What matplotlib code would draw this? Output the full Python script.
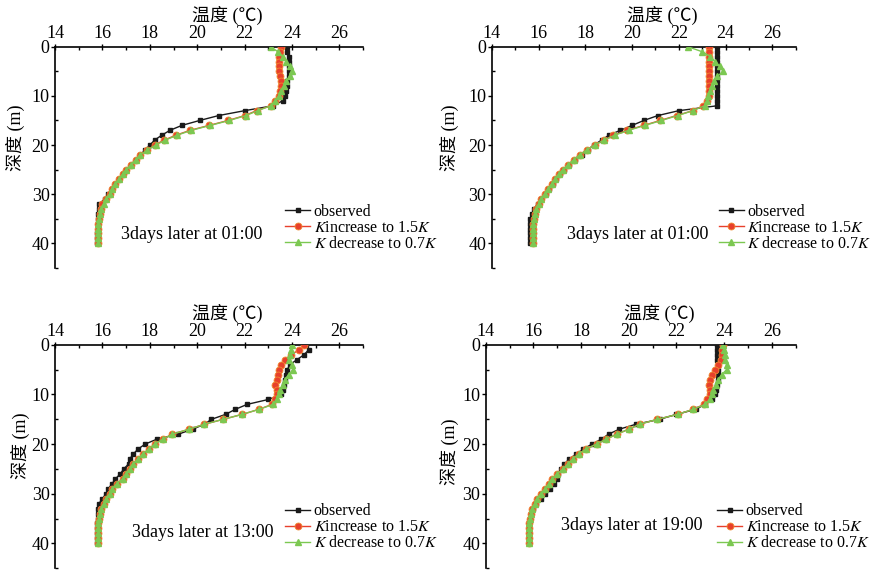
import matplotlib
matplotlib.use('Agg')
import matplotlib.pyplot as plt
from matplotlib.ticker import MultipleLocator

# Perfis verticais de temperatura: observado x modelo com K alterado
plt.rcParams['font.family'] = ['Liberation Serif', 'Noto Sans CJK SC']
plt.rcParams['mathtext.fontset'] = 'stix'

depth = [0, 1, 2, 3, 4, 5, 6, 7, 8, 9, 10, 11, 12, 13, 14, 15, 16, 17, 18, 19, 20,
         21, 22, 23, 24, 25, 26, 27, 28, 29, 30, 31, 32, 33, 34, 35, 36, 37, 38, 39, 40]

# painel a: 3 dias depois, 01:00
obs_a = [23.8, 23.8, 23.85, 23.85, 23.85, 23.85, 23.85, 23.8, 23.8, 23.75, 23.7, 23.6, 23.2, 22.0,
         20.9, 20.1, 19.35, 18.85, 18.5, 18.2, 18.0, 17.8, 17.6, 17.4, 17.2, 17.0, 16.85, 16.7,
         16.55, 16.4, 16.25, 16.1, 15.85, 15.85, 15.8, 15.8, 15.8, 15.8, 15.75, 15.75, 15.75]
inc_a = [23.55, 23.5, 23.45, 23.45, 23.45, 23.45, 23.5, 23.55, 23.55, 23.5, 23.45, 23.3, 23.1, 22.5,
         22.0, 21.3, 20.5, 19.7, 19.1, 18.6, 18.2, 17.9, 17.6, 17.4, 17.2, 17.0, 16.85, 16.7,
         16.55, 16.4, 16.3, 16.15, 16.0, 15.95, 15.9, 15.85, 15.8, 15.8, 15.8, 15.8, 15.8]
dec_a = [23.1, 23.4, 23.6, 23.75, 23.9, 24.0, 23.9, 23.75, 23.65, 23.55, 23.45, 23.3, 23.1, 22.55,
         22.05, 21.35, 20.55, 19.75, 19.15, 18.65, 18.25, 17.9, 17.6, 17.4, 17.2, 17.0, 16.85, 16.7,
         16.55, 16.4, 16.3, 16.15, 16.05, 15.95, 15.9, 15.85, 15.8, 15.8, 15.8, 15.8, 15.8]

# painel b: 3 dias depois, 01:00
obs_b = [23.65, 23.65, 23.65, 23.65, 23.65, 23.65, 23.65, 23.65, 23.65, 23.65, 23.65, 23.65, 23.65, 22.0,
         21.1, 20.5, 20.0, 19.5, 19.0, 18.7, 18.35, 18.1, 17.85, 17.55, 17.3, 17.1, 16.9, 16.75,
         16.6, 16.45, 16.3, 16.1, 15.95, 15.8, 15.7, 15.65, 15.65, 15.65, 15.65, 15.65, 15.65]
inc_b = [23.3, 23.3, 23.3, 23.3, 23.3, 23.3, 23.3, 23.3, 23.3, 23.3, 23.3, 23.2, 23.05, 22.6,
         21.9, 21.2, 20.5, 19.8, 19.2, 18.8, 18.4, 18.05, 17.75, 17.5, 17.25, 17.05, 16.85, 16.7,
         16.55, 16.4, 16.25, 16.1, 16.0, 15.9, 15.85, 15.8, 15.75, 15.75, 15.75, 15.75, 15.75]
dec_b = [22.4, 23.0, 23.35, 23.55, 23.75, 23.9, 23.65, 23.5, 23.4, 23.35, 23.25, 23.2, 23.1, 22.6,
         21.95, 21.25, 20.55, 19.85, 19.25, 18.8, 18.4, 18.05, 17.75, 17.5, 17.25, 17.05, 16.85, 16.7,
         16.55, 16.4, 16.25, 16.1, 16.0, 15.9, 15.85, 15.8, 15.75, 15.75, 15.75, 15.75, 15.75]

# painel c: 3 dias depois, 13:00
obs_c = [24.6, 24.7, 24.5, 24.2, 23.9, 23.8, 23.75, 23.7, 23.65, 23.6, 23.55, 23.0, 22.1, 21.6,
         21.2, 20.6, 20.3, 19.8, 19.2, 18.3, 17.8, 17.5, 17.3, 17.15, 17.1, 16.9, 16.75, 16.55,
         16.4, 16.25, 16.15, 16.0, 15.85, 15.8, 15.8, 15.8, 15.75, 15.75, 15.75, 15.75, 15.75]
inc_c = [24.5, 24.3, 23.95, 23.7, 23.55, 23.45, 23.4, 23.35, 23.3, 23.35, 23.35, 23.3, 23.15, 22.6,
         21.9, 21.1, 20.3, 19.65, 18.95, 18.55, 18.2, 17.95, 17.7, 17.5, 17.3, 17.15, 17.0, 16.85,
         16.6, 16.4, 16.3, 16.15, 16.05, 15.95, 15.9, 15.85, 15.8, 15.8, 15.8, 15.8, 15.8]
dec_c = [24.0, 23.95, 23.9, 23.85, 24.0, 24.05, 23.85, 23.7, 23.6, 23.5, 23.45, 23.35, 23.2, 22.6,
         21.9, 21.1, 20.3, 19.65, 18.95, 18.55, 18.2, 17.95, 17.7, 17.5, 17.3, 17.15, 17.0, 16.85,
         16.6, 16.4, 16.3, 16.15, 16.05, 15.95, 15.9, 15.85, 15.8, 15.8, 15.8, 15.8, 15.8]

# painel d: 3 dias depois, 19:00
obs_d = [23.7, 23.7, 23.7, 23.7, 23.75, 23.75, 23.75, 23.75, 23.7, 23.65, 23.6, 23.5, 23.2, 22.8,
         22.0, 21.3, 20.3, 19.6, 19.15, 18.85, 18.45, 18.1, 17.8, 17.5, 17.3, 17.15, 17.05, 17.0,
         16.85, 16.7, 16.5, 16.3, 16.1, 16.0, 15.9, 15.85, 15.8, 15.8, 15.8, 15.8, 15.8]
inc_d = [23.95, 23.9, 23.9, 23.85, 23.75, 23.6, 23.5, 23.4, 23.35, 23.4, 23.4, 23.3, 23.15, 22.7,
         22.05, 21.2, 20.45, 20.0, 19.5, 19.05, 18.65, 18.2, 17.9, 17.65, 17.45, 17.25, 17.0, 16.8,
         16.65, 16.5, 16.3, 16.15, 16.05, 15.95, 15.9, 15.85, 15.8, 15.8, 15.8, 15.8, 15.8]
dec_d = [23.95, 24.0, 24.05, 24.05, 24.1, 24.1, 23.9, 23.75, 23.65, 23.55, 23.5, 23.4, 23.2, 22.7,
         22.05, 21.2, 20.45, 20.0, 19.5, 19.05, 18.65, 18.2, 17.9, 17.65, 17.45, 17.25, 17.0, 16.8,
         16.65, 16.5, 16.3, 16.15, 16.05, 15.95, 15.9, 15.85, 15.8, 15.8, 15.8, 15.8, 15.8]

time_labels = ['3days later at 01:00', '3days later at 01:00',
               '3days later at 13:00', '3days later at 19:00']
series_labels = ['observed', r'$K$increase to 1.5$K$', r'$K$ decrease to 0.7$K$']
x_ticks = [14, 16, 18, 20, 22, 24, 26]
y_ticks = [0, 10, 20, 30, 40]

panels = [(obs_a, inc_a, dec_a), (obs_b, inc_b, dec_b),
          (obs_c, inc_c, dec_c), (obs_d, inc_d, dec_d)]

# posicao dos eixos na figura (left, bottom, width, height)
boxes = [[0.062, 0.531, 0.347, 0.387],
         [0.554, 0.531, 0.342, 0.387],
         [0.062, 0.005, 0.347, 0.391],
         [0.547, 0.005, 0.349, 0.391]]
ylabel_xy = [(-0.097, 0.59), (-0.11, 0.59), (-0.08, 0.55), (-0.087, 0.52)]
note_xy = [(0.445, 0.15), (0.48, 0.15), (0.48, 0.16), (0.47, 0.19)]

C_OBS = '#1a1a1a'
C_INC = '#e8402c'
C_DEC = '#7cc852'


def draw_panel(ax, obs, inc, dec, note, ylab_xy, nxy):
    ax.plot(obs, depth, '-s', color=C_OBS, lw=1.0, ms=3.2, label=series_labels[0], zorder=3)
    ax.plot(inc, depth, '-o', color=C_INC, mec='#f08a30', mew=0.6, lw=1.0, ms=5,
            label=series_labels[1], zorder=4)
    ax.plot(dec, depth, '-^', color=C_DEC, lw=1.0, ms=5, label=series_labels[2], zorder=5)

    ax.set_xlim(14, 27)
    ax.set_ylim(45, 0)
    ax.xaxis.tick_top()
    ax.xaxis.set_label_position('top')
    ax.set_xticks(x_ticks)
    ax.set_yticks(y_ticks)
    ax.xaxis.set_minor_locator(MultipleLocator(1))
    ax.yaxis.set_minor_locator(MultipleLocator(5))
    ax.tick_params(which='both', labelsize=13, width=1.0, pad=1)
    ax.tick_params(axis='x', which='major', direction='inout', length=5)
    ax.tick_params(axis='y', which='major', direction='out', length=3)
    ax.tick_params(which='minor', direction='in', length=2.5)
    for s in ['right', 'bottom']:
        ax.spines[s].set_visible(False)
    for s in ['top', 'left']:
        ax.spines[s].set_linewidth(1.2)

    ax.set_xlabel('温度 (℃)', fontsize=13)
    ax.xaxis.set_label_coords(0.56, 1.115)
    ax.set_ylabel('深度 (m)', fontsize=13)
    ax.yaxis.set_label_coords(*ylab_xy)

    ax.text(nxy[0], nxy[1], note, transform=ax.transAxes, ha='center', va='center', fontsize=13)
    ax.legend(loc='upper left', bbox_to_anchor=(0.746, 0.29), frameon=False, fontsize=11.5,
              handlelength=1.6, handletextpad=0.2, labelspacing=0.0, borderpad=0,
              borderaxespad=0)


def main():
    fig = plt.figure(figsize=(8.88, 5.71), dpi=100)
    for i, (obs, inc, dec) in enumerate(panels):
        ax = fig.add_axes(boxes[i])
        draw_panel(ax, obs, inc, dec, time_labels[i], ylabel_xy[i], note_xy[i])
    fig.savefig('out.png', dpi=100)


if __name__ == '__main__':
    main()
